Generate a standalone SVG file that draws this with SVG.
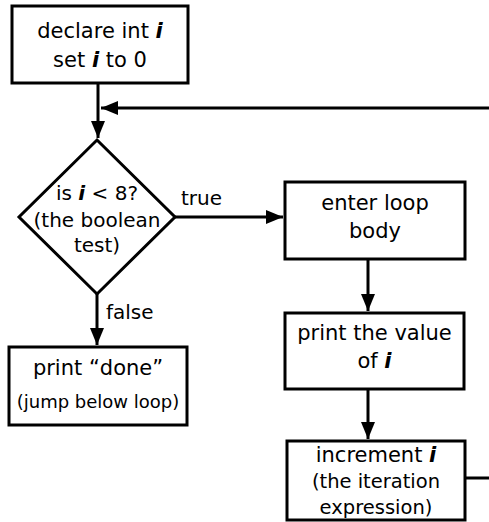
<svg xmlns="http://www.w3.org/2000/svg" width="489" height="522" viewBox="0 0 489 522">
<defs>
<style>
.box{fill:#fff;stroke:#000;stroke-width:3}
.t{font-family:"DejaVu Sans",sans-serif;font-size:21px;fill:#000;text-anchor:middle}
.d{font-size:20px}
.s{font-size:19.5px}
.xs{font-size:18px}
.lbl{font-family:"DejaVu Sans",sans-serif;font-size:20px;fill:#000}
.v{font-style:italic;font-weight:bold}
.c{fill:none;stroke:#000;stroke-width:3}
</style>
<marker id="ah" markerUnits="userSpaceOnUse" markerWidth="18" markerHeight="14" refX="17" refY="7" orient="auto">
<path d="M0,0 L17,7 L0,14 z" fill="#000"/>
</marker>
</defs>
<rect width="489" height="522" fill="#fff"/>
<g id="connectors">
<path class="c" d="M98,83 V138" marker-end="url(#ah)"/>
<path class="c" d="M465,478 H495 V108 H101" marker-end="url(#ah)"/>
<path class="c" d="M175,217 H283" marker-end="url(#ah)"/>
<path class="c" d="M368,259 V311" marker-end="url(#ah)"/>
<path class="c" d="M368,389 V439" marker-end="url(#ah)"/>
<path class="c" d="M97,294 V345" marker-end="url(#ah)"/>
<text class="lbl" x="181" y="205">true</text>
<text class="lbl" x="106" y="319">false</text>
</g>
<g id="n1">
<rect class="box" x="12" y="6" width="176" height="77"/>
<text class="t" x="100" y="38">declare int <tspan class="v">i</tspan></text>
<text class="t" x="100" y="67">set <tspan class="v">i</tspan> to 0</text>
</g>
<g id="n2">
<polygon class="box" points="97,140 175,217 97,294 19,217"/>
<text class="t d" x="97" y="200">is <tspan class="v">i</tspan> &lt; 8?</text>
<text class="t d" x="97" y="227">(the boolean</text>
<text class="t d" x="97" y="252">test)</text>
</g>
<g id="n3">
<rect class="box" x="285" y="182" width="180" height="77"/>
<text class="t" x="375" y="210">enter loop</text>
<text class="t" x="375" y="238">body</text>
</g>
<g id="n4">
<rect class="box" x="285" y="313" width="179" height="76"/>
<text class="t" x="374.5" y="340">print the value</text>
<text class="t" x="374.5" y="368">of <tspan class="v">i</tspan></text>
</g>
<g id="n5">
<rect class="box" x="287" y="441" width="178" height="79"/>
<text class="t" x="376" y="462">increment <tspan class="v">i</tspan></text>
<text class="t s" x="376" y="488">(the iteration</text>
<text class="t s" x="376" y="514">expression)</text>
</g>
<g id="n6">
<rect class="box" x="9" y="347" width="178" height="78"/>
<text class="t" x="98" y="375">print “done”</text>
<text class="t xs" x="98" y="408">(jump below loop)</text>
</g>
</svg>
